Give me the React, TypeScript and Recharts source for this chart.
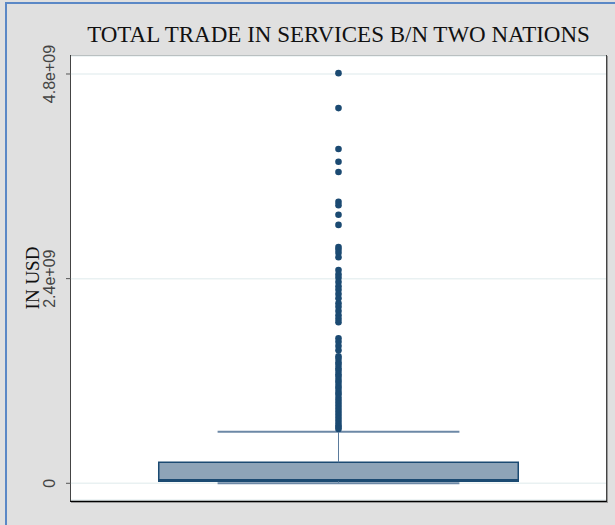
import React from 'react';
import {
  ComposedChart,
  Scatter,
  XAxis,
  YAxis,
  CartesianGrid,
  ReferenceArea,
  ReferenceLine,
} from 'recharts';

// box summary: lower whisker, q1, median, q3, upper whisker (USD)
const boxStats = [0, 2.3e7, 3.8e7, 2.46e8, 6.05e8];

// observations beyond the upper whisker (USD)
const outliers = [
  4.81e9, 4.40e9, 3.92e9, 3.77e9, 3.65e9, 3.30e9, 3.26e9, 3.15e9, 3.03e9,
  2.77e9, 2.74e9, 2.70e9, 2.65e9, 2.50e9, 2.45e9, 2.41e9, 2.36e9, 2.31e9,
  2.27e9, 2.22e9, 2.17e9, 2.11e9, 2.07e9, 2.02e9, 1.97e9, 1.93e9, 1.89e9,
  1.70e9, 1.66e9, 1.61e9, 1.56e9, 1.49e9, 1.46e9, 1.42e9, 1.39e9, 1.35e9,
  1.32e9, 1.28e9, 1.25e9, 1.21e9, 1.18e9, 1.14e9, 1.11e9, 1.07e9, 1.04e9,
  1.0e9, 9.65e8, 9.3e8, 8.95e8, 8.6e8, 8.24e8, 7.89e8, 7.54e8, 7.19e8,
  6.84e8, 6.6e8, 6.37e8,
];

const yTicks = [0, 2.4e9, 4.8e9];
const yTickLabels = ['0', '2.4e+09', '4.8e+09'];

const title = 'TOTAL TRADE IN SERVICES B/N TWO NATIONS';
const yTitle = 'IN USD';

const W = 615;
const H = 525;
const CENTER = 0.5;
const BOX_HALF = 0.336;
const CAP_HALF = 0.226;
const DARK = '#1b4a72';

const outlierData = outliers.map((v) => ({ x: CENTER, y: v }));

const YTick = (props: any) => {
  const { x, y, payload } = props;
  const i = yTicks.indexOf(payload.value);
  const tx = x - 14.5;
  return (
    <text
      x={tx}
      y={y}
      dy="0.36em"
      textAnchor="middle"
      transform={`rotate(-90, ${tx}, ${y})`}
      fontFamily="'Liberation Sans', Arial, sans-serif"
      fontSize={16}
      fill="#444"
    >
      {i >= 0 ? yTickLabels[i] : payload.value}
    </text>
  );
};

const YTitle = (props: any) => {
  const vb = props.viewBox || {};
  const cy = (vb.y ?? 56) + (vb.height ?? 444) / 2;
  const cx = 32.5;
  return (
    <text
      x={cx}
      y={cy}
      dy="0.35em"
      textAnchor="middle"
      transform={`rotate(-90, ${cx}, ${cy})`}
      fontFamily="'Liberation Serif', 'Times New Roman', serif"
      fontSize={19}
      fill="#111"
    >
      {yTitle}
    </text>
  );
};

const Dot = (props: any) => <circle cx={props.cx} cy={props.cy} r={3.3} fill={DARK} />;

export default function App() {
  const [low, q1, median, q3, high] = boxStats;
  return (
    <div
      style={{
        position: 'fixed',
        left: 0,
        top: 0,
        width: W,
        height: H,
        background: '#e0e0e0',
        overflow: 'hidden',
      }}
    >
      <div
        style={{
          position: 'absolute',
          left: 5,
          top: 2,
          right: 0,
          bottom: 0,
          borderTop: '2px solid #5b88c6',
          borderLeft: '2px solid #5b88c6',
        }}
      />
      <div
        style={{
          position: 'absolute',
          left: 70,
          top: 55,
          width: 537,
          height: 447,
          boxSizing: 'border-box',
          background: '#fff',
          borderLeft: '1px solid #444',
          borderTop: '1px solid #333',
          borderRight: '1px solid #444',
          borderBottom: '2px solid #000',
          boxShadow: '1px 1px 0 #999',
        }}
      />
      <div
        style={{
          position: 'absolute',
          left: 71,
          width: 535,
          top: 22,
          textAlign: 'center',
          fontFamily: "'Liberation Serif', 'Times New Roman', serif",
          fontSize: 23,
          lineHeight: '26px',
          color: '#111',
          whiteSpace: 'nowrap',
        }}
      >
        {title}
      </div>
      <div style={{ position: 'absolute', left: 0, top: 0 }}>
        <ComposedChart
          width={W}
          height={H}
          margin={{ top: 56, right: 9, bottom: 25, left: 0 }}
        >
          <CartesianGrid horizontal vertical={false} stroke="#e9f1f2" strokeWidth={1.5} />
          <XAxis type="number" dataKey="x" domain={[0, 1]} hide />
          <YAxis
            type="number"
            dataKey="y"
            width={71}
            domain={[-1.96e8, 5.011e9]}
            ticks={yTicks}
            axisLine={false}
            tickSize={5}
            tickLine={{ stroke: '#555' }}
            tick={<YTick />}
            label={{ content: (p: any) => <YTitle {...p} /> }}
            allowDataOverflow
          />
          <ReferenceArea
            x1={CENTER - BOX_HALF}
            x2={CENTER + BOX_HALF}
            y1={q1}
            y2={q3}
            fill="#8ea4b8"
            fillOpacity={1}
            stroke={DARK}
            strokeWidth={1.5}
          />
          <ReferenceLine
            segment={[
              { x: CENTER - BOX_HALF, y: median },
              { x: CENTER + BOX_HALF, y: median },
            ]}
            stroke={DARK}
            strokeWidth={2}
          />
          <ReferenceLine
            segment={[
              { x: CENTER, y: q3 },
              { x: CENTER, y: high },
            ]}
            stroke="#5b7b9c"
            strokeWidth={1}
          />
          <ReferenceLine
            segment={[
              { x: CENTER, y: low },
              { x: CENTER, y: q1 },
            ]}
            stroke="#5b7b9c"
            strokeWidth={1}
          />
          <ReferenceLine
            segment={[
              { x: CENTER - CAP_HALF, y: high },
              { x: CENTER + CAP_HALF, y: high },
            ]}
            stroke="#6c88a6"
            strokeWidth={2}
          />
          <ReferenceLine
            segment={[
              { x: CENTER - CAP_HALF, y: low },
              { x: CENTER + CAP_HALF, y: low },
            ]}
            stroke="#6c88a6"
            strokeWidth={2}
          />
          <Scatter data={outlierData} shape={<Dot />} isAnimationActive={false} />
        </ComposedChart>
      </div>
    </div>
  );
}
